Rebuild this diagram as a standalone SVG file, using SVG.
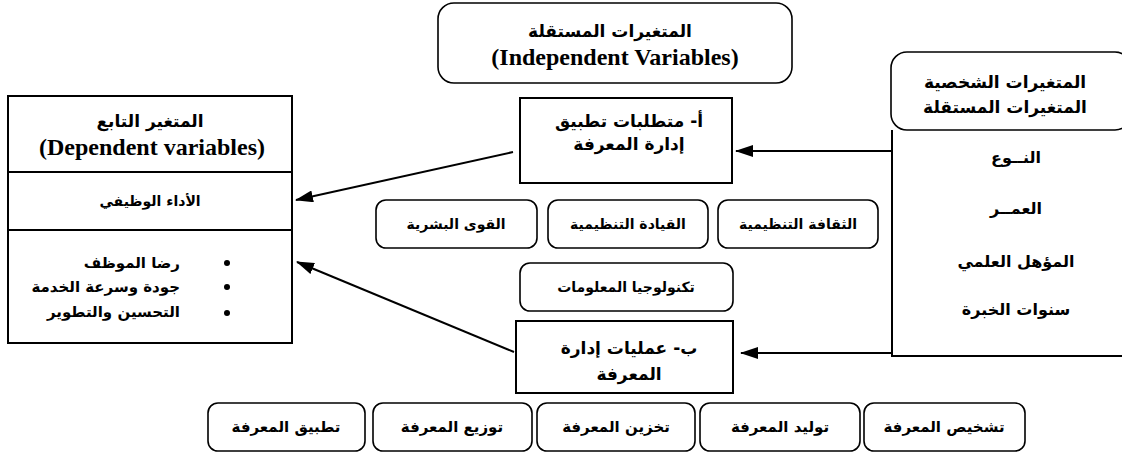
<svg xmlns="http://www.w3.org/2000/svg" width="1122" height="455" viewBox="0 0 1122 455">
<defs>
<style>
.box{fill:#fff;stroke:#000;stroke-width:2}
.rb{fill:#fff;stroke:#000;stroke-width:1.6}
.ln{fill:none;stroke:#000;stroke-width:2}
.hd{font-family:"Liberation Serif","DejaVu Serif",serif;font-weight:bold;font-size:24px;fill:#000;text-anchor:middle}
.ar{font-family:"DejaVu Sans","Liberation Sans",sans-serif;font-weight:bold;fill:#000;text-anchor:middle}
.a20{font-size:17px}
.a17{font-size:17px}
.a16{font-size:15px}
.a14{font-size:14px}
</style>
<marker id="arr" markerWidth="18" markerHeight="12" refX="17" refY="6" orient="auto" markerUnits="userSpaceOnUse">
<path d="M0,0 L18,6 L0,12 z" fill="#000"/>
</marker>
</defs>

<g id="connectors">
<line class="ln" x1="513" y1="152" x2="296" y2="200" marker-end="url(#arr)"/>
<line class="ln" x1="514" y1="352" x2="297" y2="262" marker-end="url(#arr)"/>
<line class="ln" x1="891" y1="151" x2="736" y2="151" marker-end="url(#arr)"/>
<line class="ln" x1="892" y1="353" x2="741" y2="353" marker-end="url(#arr)"/>
</g>

<g id="dependent">
<rect class="box" x="8" y="96" width="284" height="247"/>
<line class="ln" x1="8" y1="172" x2="292" y2="172"/>
<line class="ln" x1="8" y1="230" x2="292" y2="230"/>
<text class="ar a17" x="150" y="127" direction="rtl">المتغير التابع</text>
<text class="hd" x="152" y="155">(Dependent variables)</text>
<text class="ar a14" x="150" y="206" direction="rtl">الأداء الوظيفي</text>
<circle cx="227" cy="263" r="3"/>
<circle cx="227" cy="287" r="3"/>
<circle cx="227" cy="313" r="3"/>
<text class="ar a16" x="180" y="268" direction="rtl" style="text-anchor:start">رضا الموظف</text>
<text class="ar a16" x="180" y="292" direction="rtl" style="text-anchor:start">جودة وسرعة الخدمة</text>
<text class="ar a16" x="180" y="317" direction="rtl" style="text-anchor:start">التحسين والتطوير</text>
</g>

<g id="independent">
<rect class="rb" x="438" y="3" width="354" height="80" rx="16"/>
<text class="ar a17" x="610" y="37" direction="rtl">المتغيرات المستقلة</text>
<text class="hd" x="615" y="65">(Independent Variables)</text>
</g>

<g id="reqA">
<rect class="box" x="520" y="98" width="212" height="85"/>
<text class="ar a20" x="629" y="127" direction="rtl">أ- متطلبات تطبيق</text>
<text class="ar a20" x="629" y="150" direction="rtl">إدارة المعرفة</text>
</g>

<g id="hr"><rect class="rb" x="376" y="200" width="161" height="48" rx="10"/><text class="ar a14" x="456" y="229" direction="rtl">القوى البشرية</text></g>
<g id="lead"><rect class="rb" x="548" y="200" width="160" height="48" rx="10"/><text class="ar a14" x="628" y="229" direction="rtl">القيادة التنظيمية</text></g>
<g id="culture"><rect class="rb" x="718" y="200" width="160" height="48" rx="10"/><text class="ar a14" x="798" y="229" direction="rtl">الثقافة التنظيمية</text></g>
<g id="it"><rect class="rb" x="520" y="263" width="213" height="48" rx="10"/><text class="ar a14" x="626" y="292" direction="rtl">تكنولوجيا المعلومات</text></g>

<g id="procB">
<rect class="box" x="516" y="321" width="217" height="72"/>
<text class="ar a20" x="629" y="354" direction="rtl">ب- عمليات إدارة</text>
<text class="ar a20" x="629" y="380" direction="rtl">المعرفة</text>
</g>

<g id="apply"><rect class="rb" x="208" y="403" width="157" height="48" rx="10"/><text class="ar a16" x="286" y="432" direction="rtl">تطبيق المعرفة</text></g>
<g id="share"><rect class="rb" x="373" y="403" width="159" height="48" rx="10"/><text class="ar a16" x="452" y="432" direction="rtl">توزيع المعرفة</text></g>
<g id="store"><rect class="rb" x="537" y="403" width="158" height="48" rx="10"/><text class="ar a16" x="616" y="432" direction="rtl">تخزين المعرفة</text></g>
<g id="gen"><rect class="rb" x="700" y="403" width="160" height="48" rx="10"/><text class="ar a16" x="780" y="432" direction="rtl">توليد المعرفة</text></g>
<g id="diag"><rect class="rb" x="864" y="403" width="161" height="48" rx="10"/><text class="ar a16" x="944" y="432" direction="rtl">تشخيص المعرفة</text></g>

<g id="personal">
<rect class="rb" x="891" y="52" width="240" height="78" rx="16"/>
<text class="ar a17" x="1005" y="88" direction="rtl">المتغيرات الشخصية</text>
<text class="ar a17" x="1005" y="113" direction="rtl">المتغيرات المستقلة</text>
<path class="ln" d="M892,130 L892,356 L1125,356"/>
<text class="ar a16" x="1016" y="163" direction="rtl" style="font-size:16px">النــوع</text>
<text class="ar a16" x="1016" y="214" direction="rtl" style="font-size:16px">العمــر</text>
<text class="ar a16" x="1016" y="267" direction="rtl" style="font-size:16px">المؤهل العلمي</text>
<text class="ar a16" x="1016" y="315" direction="rtl" style="font-size:16px">سنوات الخبرة</text>
</g>
</svg>
